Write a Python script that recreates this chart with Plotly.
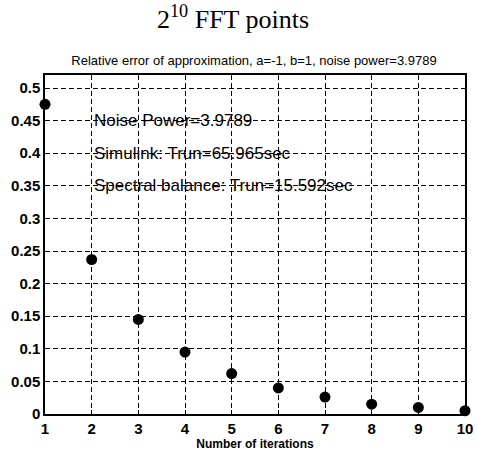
import plotly.graph_objects as go

# Relative approximation error per iteration
iterations = [1, 2, 3, 4, 5, 6, 7, 8, 9, 10]
rel_error = [0.475, 0.237, 0.145, 0.095, 0.062, 0.040, 0.026, 0.015, 0.010, 0.005]

y_ticks = [0, 0.05, 0.1, 0.15, 0.2, 0.25, 0.3, 0.35, 0.4, 0.45, 0.5]
y_tick_labels = ["0", "0.05", "0.1", "0.15", "0.2", "0.25", "0.3", "0.35", "0.4", "0.45", "0.5"]

notes = ["Noise Power=3.9789", "Simulink: Trun=65.965sec", "Spectral balance: Trun=15.592sec"]
note_y = [0.45, 0.40, 0.35]

SANS = "Liberation Sans, Arial"

fig = go.Figure()
fig.add_trace(go.Scatter(
    x=iterations, y=rel_error, mode="markers",
    marker=dict(color="black", size=11),
    cliponaxis=False, showlegend=False,
))

for txt, yv in zip(notes, note_y):
    fig.add_annotation(x=2, y=yv, xref="x", yref="y", text=txt, showarrow=False,
                       xanchor="left", yanchor="middle", xshift=0,
                       font=dict(family=SANS, size=17, color="black"))

# Figure heading above the axes title
fig.add_annotation(x=(237 - 45) / 428, y=1 + (75 - 18) / 339, xref="paper", yref="paper",
                   text="2<sup>10</sup> FFT points",
                   showarrow=False, xanchor="center", yanchor="middle",
                   font=dict(family="Liberation Serif, Times New Roman", size=26, color="black"))

fig.update_layout(
    width=478, height=454,
    margin=dict(l=45, r=5, t=75, b=40),
    paper_bgcolor="white", plot_bgcolor="white",
    title=dict(text="Relative error of approximation, a=-1, b=1, noise power=3.9789",
               x=254 / 478, xanchor="center", y=1 - 60 / 454, yanchor="middle",
               font=dict(family=SANS, size=13, color="black")),
    font=dict(family=SANS, color="black"),
)

fig.update_xaxes(
    range=[1, 10], tickmode="array", tickvals=iterations, ticktext=[str(i) for i in iterations],
    ticklabeloverflow="allow",
    showgrid=True, gridcolor="black", griddash="5px,3px", gridwidth=1,
    showline=True, linecolor="black", linewidth=1.5, mirror=True,
    ticks="inside", ticklen=4, tickcolor="black", zeroline=False,
    tickfont=dict(family=SANS, size=15, color="black", weight="bold"),
    title=dict(text="Number of iterations", standoff=0,
               font=dict(family=SANS, size=12, color="black", weight="bold")),
)
fig.update_yaxes(
    range=[0, 0.52], tickmode="array", tickvals=y_ticks, ticktext=y_tick_labels,
    showgrid=True, gridcolor="black", griddash="5px,3px", gridwidth=1,
    showline=True, linecolor="black", linewidth=1.5, mirror=True,
    ticks="inside", ticklen=4, tickcolor="black", zeroline=False,
    tickfont=dict(family=SANS, size=15, color="black", weight="bold"),
)

fig.write_html("out.html")
